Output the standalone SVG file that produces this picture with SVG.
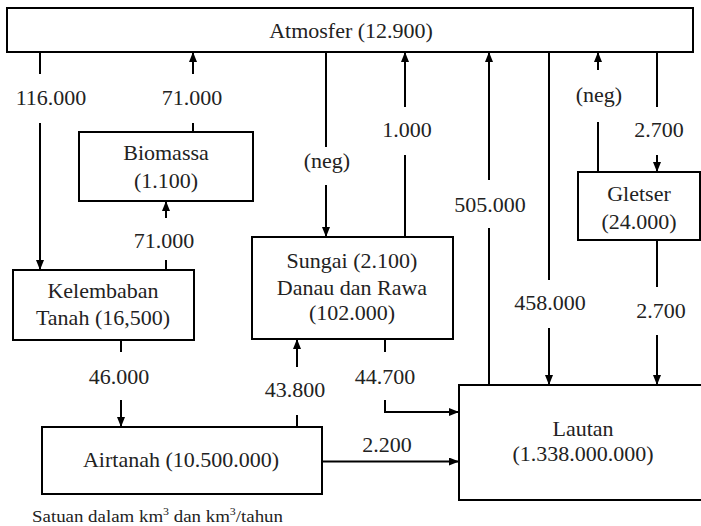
<svg xmlns="http://www.w3.org/2000/svg" width="701" height="526" viewBox="0 0 701 526">
<style>
.box{fill:#fff;stroke:#000;stroke-width:2}
.ln{fill:none;stroke:#000;stroke-width:2}
.ar{fill:none;stroke:#000;stroke-width:2;marker-end:url(#ah)}
text{font-size:22px;fill:#222;text-anchor:middle}
.note{font-size:17.5px;text-anchor:start}
</style>
<defs>
<marker id="ah" viewBox="0 0 10 8" refX="10" refY="4" markerWidth="10" markerHeight="8" markerUnits="userSpaceOnUse" orient="auto">
<path d="M0,0 L10,4 L0,8 z" fill="#000"/>
</marker>
</defs>
<rect width="701" height="526" fill="#fff"/>
<g id="connectors">
<line class="ln" x1="40" y1="52" x2="40" y2="74"/>
<line class="ar" x1="40" y1="123" x2="40" y2="270"/>
<line class="ln" x1="193" y1="132" x2="193" y2="123"/>
<line class="ar" x1="193" y1="74" x2="193" y2="52"/>
<line class="ln" x1="166" y1="270" x2="166" y2="260"/>
<line class="ar" x1="166" y1="218" x2="166" y2="201"/>
<line class="ln" x1="326" y1="52" x2="326" y2="147"/>
<line class="ar" x1="326" y1="185" x2="326" y2="237"/>
<line class="ar" x1="405" y1="107" x2="405" y2="52"/>
<line class="ln" x1="405" y1="155" x2="405" y2="237"/>
<line class="ar" x1="489" y1="180" x2="489" y2="52"/>
<line class="ln" x1="489" y1="228" x2="489" y2="385"/>
<line class="ln" x1="549" y1="52" x2="549" y2="280"/>
<line class="ar" x1="549" y1="328" x2="549" y2="385"/>
<line class="ar" x1="598" y1="70" x2="598" y2="52"/>
<line class="ln" x1="598" y1="122" x2="598" y2="172"/>
<line class="ln" x1="657" y1="52" x2="657" y2="107"/>
<line class="ar" x1="657" y1="155" x2="657" y2="172"/>
<line class="ln" x1="657" y1="240" x2="657" y2="287"/>
<line class="ar" x1="657" y1="335" x2="657" y2="385"/>
<line class="ln" x1="121" y1="340" x2="121" y2="352"/>
<line class="ar" x1="121" y1="400" x2="121" y2="427"/>
<line class="ln" x1="297" y1="427" x2="297" y2="415"/>
<line class="ar" x1="297" y1="367" x2="297" y2="339"/>
<line class="ln" x1="385" y1="339" x2="385" y2="352"/>
<path class="ar" d="M385,400 V412 H459"/>
<line class="ar" x1="322" y1="461.5" x2="459" y2="461.5"/>
</g>
<g font-family="Liberation Serif, Times New Roman, serif">
<g id="labels">
<text x="51" y="105">116.000</text>
<text x="192" y="105">71.000</text>
<text x="164" y="248">71.000</text>
<text x="327" y="168">(neg)</text>
<text x="407" y="137">1.000</text>
<text x="490" y="212">505.000</text>
<text x="599" y="102">(neg)</text>
<text x="659" y="137">2.700</text>
<text x="550" y="310">458.000</text>
<text x="661" y="318">2.700</text>
<text x="119" y="384">46.000</text>
<text x="385" y="384">44.700</text>
<text x="295" y="397">43.800</text>
<text x="387" y="452">2.200</text>
</g>
<g id="atmosfer">
<rect class="box" x="7" y="8" width="686" height="44"/>
<text x="351" y="38">Atmosfer (12.900)</text>
</g>
<g id="biomassa">
<rect class="box" x="79" y="132" width="174" height="69"/>
<text x="166" y="160">Biomassa</text>
<text x="166" y="188">(1.100)</text>
</g>
<g id="kelembaban">
<rect class="box" x="13" y="270" width="181" height="70"/>
<text x="103" y="298">Kelembaban</text>
<text x="103" y="325">Tanah (16,500)</text>
</g>
<g id="sungai">
<rect class="box" x="252" y="237" width="201" height="102"/>
<text x="352" y="268">Sungai (2.100)</text>
<text x="352" y="295">Danau dan Rawa</text>
<text x="352" y="320">(102.000)</text>
</g>
<g id="gletser">
<rect class="box" x="578" y="172" width="122" height="68"/>
<text x="639" y="201">Gletser</text>
<text x="639" y="229">(24.000)</text>
</g>
<g id="airtanah">
<rect class="box" x="42" y="427" width="280" height="67"/>
<text x="181" y="467">Airtanah (10.500.000)</text>
</g>
<g id="lautan">
<rect class="box" x="459" y="385" width="252" height="115"/>
<text x="583" y="436">Lautan</text>
<text x="583" y="461">(1.338.000.000)</text>
</g>
<text class="note" x="32" y="522" textLength="251" lengthAdjust="spacingAndGlyphs">Satuan dalam km<tspan dy="-7" font-size="11">3</tspan><tspan dy="7"> dan km</tspan><tspan dy="-7" font-size="11">3</tspan><tspan dy="7">/tahun</tspan></text>
</g>
</svg>
